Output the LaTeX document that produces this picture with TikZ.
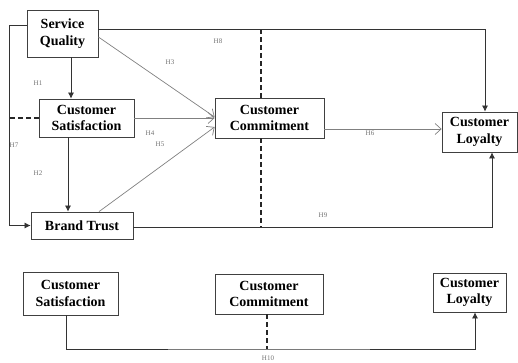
\documentclass[tikz,border=0pt]{standalone}
\usepackage{fontspec}
\setmainfont{Liberation Serif}
\usetikzlibrary{arrows.meta}

\begin{document}
\begin{tikzpicture}[x=1pt,y=-1pt,
    box/.style={draw=black!75, line width=0.8pt, fill=white, align=center, inner sep=0pt,
                font=\fontsize{14}{16.5}\selectfont\bfseries},
    link/.style={draw=black!50, line width=0.7pt},
    solid tip/.style={link, -{Latex[length=6pt,width=6pt]}, black!80},
    open tip/.style={link, -{Straight Barb[length=6pt,width=11pt]}},
    split/.style={draw=black!85, line width=1.6pt, dash pattern=on 4.5pt off 3.5pt},
    hyp/.style={text=black!55, font=\fontsize{7}{8}\selectfont, inner sep=0pt}]
  \useasboundingbox (0,0) rectangle (518,362);

  % upper model
  \node[box, minimum width=71pt, minimum height=47pt]  (sq) at (62.5,33.5)  {Service\\Quality};
  \node[box, minimum width=95pt, minimum height=38pt]  (cs) at (86.5,118)   {Customer\\Satisfaction};
  \node[box, minimum width=102pt, minimum height=27pt] (bt) at (82,225.5)   {Brand Trust};
  \node[box, minimum width=109pt, minimum height=40pt] (cc) at (269.5,118)  {Customer\\Commitment};
  \node[box, minimum width=75pt, minimum height=40pt]  (cl) at (479.5,132)  {Customer\\Loyalty};

  \coordinate (dtop) at (261,29);
  \coordinate (dbot) at (261,228);
  \draw[split] (dtop) -- (cc.north -| dtop);
  \draw[split] (cc.south -| dtop) -- (dbot);
  \draw[split] (cs.west) -- ++(-29,0);

  \draw[solid tip] ([xshift=8.5pt]sq.south) -- ([xshift=8.5pt]sq.south |- cs.north);
  \draw[solid tip] ([xshift=-18.5pt]cs.south) -- ([xshift=-18.5pt]cs.south |- bt.north);
  \draw[solid tip] ([yshift=8.5pt]sq.west) -- ++(-17,0) |- (bt.west);
  \draw[solid tip] ([yshift=4.5pt]sq.east) -| ([xshift=5.5pt]cl.north);
  \draw[solid tip] ([yshift=-1.5pt]bt.east) -| ([xshift=12.5pt]cl.south);

  \draw[open tip] ([yshift=-3.5pt]sq.east) -- ([yshift=1pt]cc.west);
  \draw[open tip] (cs.east) -- (cs.east -| cc.west);
  \draw[open tip] ([xshift=17pt]bt.north) -- ([yshift=-9pt]cc.west);
  \draw[open tip] ([yshift=-11pt]cc.east) -- ([yshift=-11pt]cc.east -| cl.west);

  \node[hyp] (h1) at (38,83)   {H1};
  \node[hyp] (h2) at (38,173)  {H2};
  \node[hyp] (h3) at (170,62)  {H3};
  \node[hyp] (h4) at (150,133) {H4};
  \node[hyp] (h5) at (160,144) {H5};
  \node[hyp] (h6) at (370,133) {H6};
  \node[hyp] (h7) at (14,145)  {H7};
  \node[hyp] (h8) at (218,41)  {H8};
  \node[hyp] (h9) at (323,215) {H9};

  % lower model
  \node[box, minimum width=95pt, minimum height=43pt]  (cs2) at (70.5,293.5) {Customer\\Satisfaction};
  \node[box, minimum width=108pt, minimum height=40pt] (cc2) at (269,294)    {Customer\\Commitment};
  \node[box, minimum width=73pt, minimum height=39pt]  (cl2) at (469.5,292.5) {Customer\\Loyalty};

  \coordinate (base) at (267,349);
  \draw[solid tip] ([xshift=-4.5pt]cs2.south) |- (base) -| ([xshift=5.5pt]cl2.south);
  \draw[split] ([xshift=-2pt]cc2.south) -- (base);
  \node[hyp] (h10) at (268,358) {H10};
\end{tikzpicture}
\end{document}
